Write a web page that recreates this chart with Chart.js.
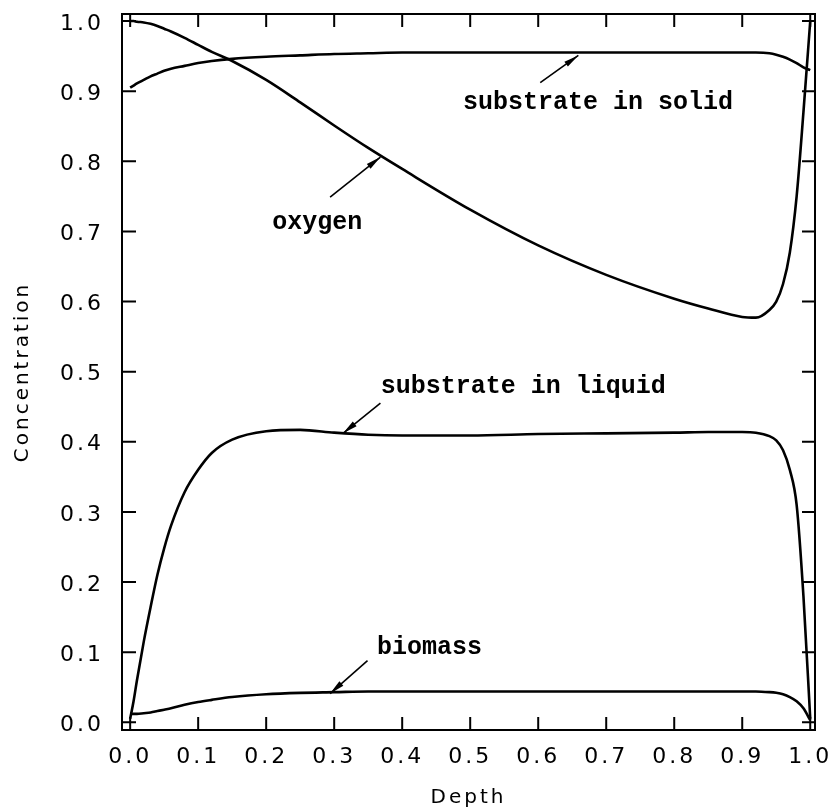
<!DOCTYPE html>
<html>
<head>
  <title>Concentration profiles</title>
  <script src="https://cdn.jsdelivr.net/npm/chart.js"></script>
  <style>
    html, body { margin: 0; padding: 0; background: #fff; }
    #wrap { width: 832px; height: 811px; }
  </style>
</head>
<body>
<div id="wrap"><canvas id="profileChart" width="832" height="811"></canvas></div>

<script>
  // depth grid (dimensionless) shared by all four curves
  const depth = [0, 0.005, 0.01, 0.02, 0.03, 0.04, 0.05, 0.06, 0.08, 0.1, 0.12, 0.15, 0.2, 0.25, 0.3, 0.35, 0.4,
                 0.5, 0.6, 0.7, 0.8, 0.85, 0.9, 0.92, 0.94, 0.95, 0.96, 0.97, 0.98, 0.99, 1.0];

  const oxygen = [1.0, 1.0, 0.999, 0.998, 0.996, 0.993, 0.989, 0.985, 0.976, 0.966, 0.956, 0.943, 0.916, 0.884, 0.851, 0.819, 0.789,
                  0.731, 0.68, 0.638, 0.604, 0.59, 0.578, 0.577, 0.588, 0.60, 0.625, 0.67, 0.75, 0.87, 1.0];

  const substrateSolid = [0.905, 0.908, 0.911, 0.916, 0.921, 0.925, 0.929, 0.932, 0.936, 0.94, 0.943, 0.946, 0.949, 0.951, 0.953, 0.954, 0.955,
                          0.955, 0.955, 0.955, 0.955, 0.955, 0.955, 0.955, 0.954, 0.952, 0.949, 0.945, 0.94, 0.934, 0.93];

  const substrateLiquid = [0.005, 0.03, 0.06, 0.115, 0.164, 0.21, 0.248, 0.28, 0.328, 0.36, 0.384, 0.403, 0.415, 0.417, 0.413, 0.41, 0.409,
                           0.409, 0.411, 0.412, 0.413, 0.414, 0.414, 0.413, 0.408, 0.402, 0.388, 0.36, 0.31, 0.18, 0.005];

  const biomass = [0.012, 0.012, 0.012, 0.013, 0.014, 0.016, 0.018, 0.02, 0.025, 0.029, 0.032, 0.036, 0.04, 0.042, 0.043, 0.044, 0.044,
                   0.044, 0.044, 0.044, 0.044, 0.044, 0.044, 0.044, 0.043, 0.042, 0.04, 0.036, 0.03, 0.02, 0.003];

  const xTicks = [0, 0.1, 0.2, 0.3, 0.4, 0.5, 0.6, 0.7, 0.8, 0.9, 1.0];
  const yTicks = [0, 0.1, 0.2, 0.3, 0.4, 0.5, 0.6, 0.7, 0.8, 0.9, 1.0];

  // curve labels: text, label centre, arrow tail, arrow tip (data units)
  const labelText = ['substrate in solid', 'oxygen', 'substrate in liquid', 'biomass'];
  const labelAt   = [[0.688, 0.883], [0.275, 0.713], [0.578, 0.478], [0.44, 0.107]];
  const arrowFrom = [[0.603, 0.912], [0.294, 0.749], [0.368, 0.455], [0.349, 0.088]];
  const arrowTo   = [[0.659, 0.951], [0.368, 0.806], [0.313, 0.412], [0.294, 0.041]];

  const toPoints = vals => depth.map((d, i) => ({ x: d, y: vals[i] }));

  function line(label, vals) {
    return {
      label: label,
      data: toPoints(vals),
      borderColor: '#000',
      borderWidth: 2.6,
      pointRadius: 0,
      fill: false,
      cubicInterpolationMode: 'monotone'
    };
  }

  // frame + inward ticks on all four sides, and wide axis text
  const framePlugin = {
    id: 'frame',
    beforeDraw(chart) {
      chart.ctx.letterSpacing = '3px';
    },
    afterDatasetsDraw(chart) {
      const { ctx, chartArea: a, scales } = chart;
      ctx.save();
      ctx.strokeStyle = '#000';
      ctx.lineWidth = 2;
      ctx.strokeRect(a.left, a.top, a.right - a.left, a.bottom - a.top);
      ctx.beginPath();
      xTicks.forEach(v => {
        const px = scales.x.getPixelForValue(v);
        ctx.moveTo(px, a.bottom); ctx.lineTo(px, a.bottom - 13);
        ctx.moveTo(px, a.top); ctx.lineTo(px, a.top + 13);
      });
      yTicks.forEach(v => {
        const py = scales.y.getPixelForValue(v);
        ctx.moveTo(a.left, py); ctx.lineTo(a.left + 14, py);
        ctx.moveTo(a.right, py); ctx.lineTo(a.right - 13, py);
      });
      ctx.stroke();
      ctx.restore();
    }
  };

  const labelPlugin = {
    id: 'curveLabels',
    afterDraw(chart) {
      const { ctx, scales } = chart;
      const X = v => scales.x.getPixelForValue(v);
      const Y = v => scales.y.getPixelForValue(v);
      ctx.save();
      ctx.letterSpacing = '0px';
      ctx.fillStyle = '#000';
      ctx.strokeStyle = '#000';
      ctx.font = 'bold 25px "Liberation Mono", monospace';
      ctx.textAlign = 'center';
      ctx.textBaseline = 'middle';
      labelText.forEach((t, i) => {
        ctx.fillText(t, X(labelAt[i][0]), Y(labelAt[i][1]));

        const x0 = X(arrowFrom[i][0]), y0 = Y(arrowFrom[i][1]);
        const x1 = X(arrowTo[i][0]), y1 = Y(arrowTo[i][1]);
        const ang = Math.atan2(y1 - y0, x1 - x0);
        ctx.lineWidth = 1.6;
        ctx.beginPath();
        ctx.moveTo(x0, y0);
        ctx.lineTo(x1, y1);
        ctx.stroke();
        const len = 15, half = 3;
        const bx = x1 - len * Math.cos(ang), by = y1 - len * Math.sin(ang);
        ctx.beginPath();
        ctx.moveTo(x1, y1);
        ctx.lineTo(bx + half * Math.sin(ang), by - half * Math.cos(ang));
        ctx.lineTo(bx - half * Math.sin(ang), by + half * Math.cos(ang));
        ctx.closePath();
        ctx.fill();
      });
      ctx.restore();
    }
  };

  const tickFont = { family: '"DejaVu Sans", sans-serif', size: 22 };
  const titleFont = { family: '"DejaVu Sans", sans-serif', size: 20 };

  new Chart(document.getElementById('profileChart'), {
    type: 'line',
    data: {
      datasets: [
        line('oxygen', oxygen),
        line('substrate in solid', substrateSolid),
        line('substrate in liquid', substrateLiquid),
        line('biomass', biomass)
      ]
    },
    options: {
      responsive: false,
      animation: false,
      events: [],
      layout: { padding: { top: 14, right: 17, left: 0, bottom: 0 } },
      plugins: { legend: { display: false }, tooltip: { enabled: false } },
      scales: {
        x: {
          type: 'linear',
          min: -0.012,
          max: 1.007,
          afterBuildTicks: s => { s.ticks = xTicks.map(v => ({ value: v })); },
          afterFit: s => { s.height = 81; s.paddingLeft = 0; s.paddingRight = 0; },
          grid: { display: false, drawTicks: false },
          border: { display: false },
          ticks: { color: '#000', font: tickFont, padding: 14, autoSkip: false, maxRotation: 0,
                   callback: v => v.toFixed(1) },
          title: { display: true, text: 'Depth', color: '#000', font: titleFont, padding: { top: 1, bottom: 1 } }
        },
        y: {
          min: -0.011,
          max: 1.01,
          afterBuildTicks: s => { s.ticks = yTicks.map(v => ({ value: v })); },
          afterFit: s => { s.width = 122; s.paddingTop = 0; s.paddingBottom = 0; },
          grid: { display: false, drawTicks: false },
          border: { display: false },
          ticks: { color: '#000', font: tickFont, padding: 18, autoSkip: false, labelOffset: 3,
                   callback: v => v.toFixed(1) },
          title: { display: true, text: 'Concentration', color: '#000', font: titleFont, padding: { top: 11, bottom: 11 } }
        }
      }
    },
    plugins: [framePlugin, labelPlugin]
  });
</script>
</body>
</html>
